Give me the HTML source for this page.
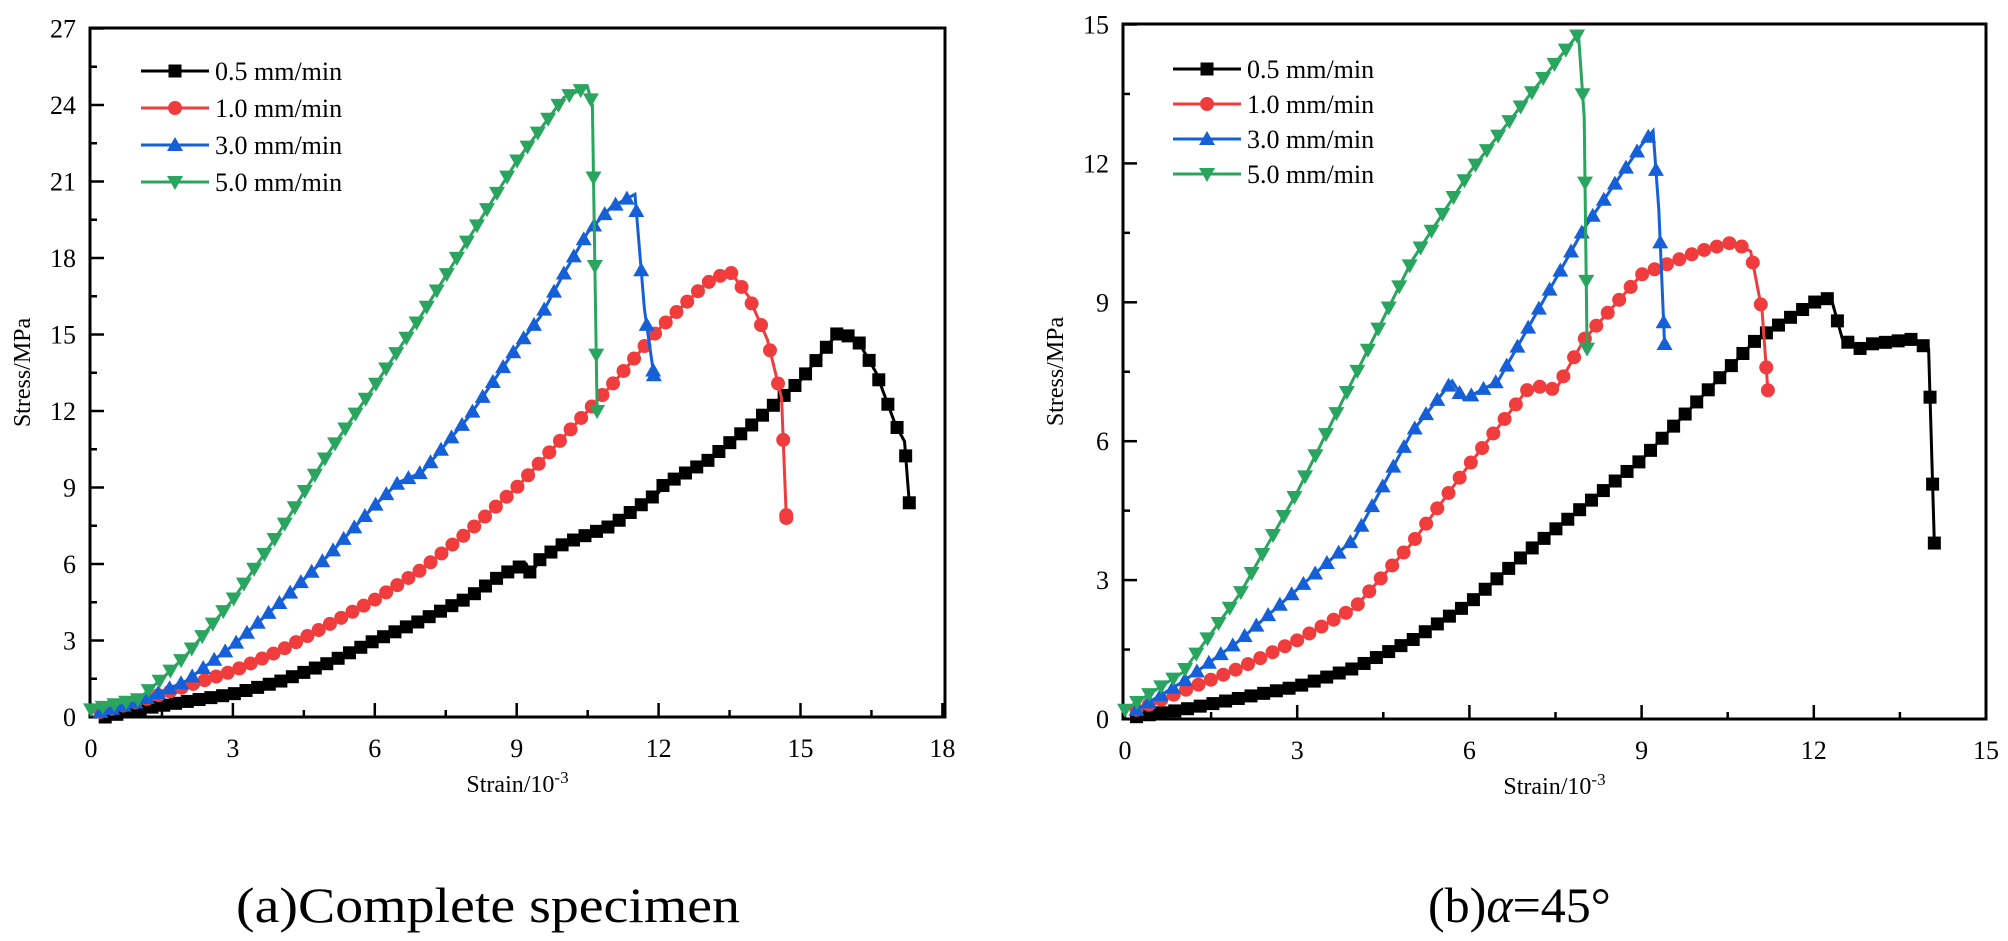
<!DOCTYPE html>
<html><head><meta charset="utf-8"><style>
body{margin:0;background:#fff}
svg{display:block}
text{font-family:"Liberation Serif",serif;fill:#000}
</style></head><body>
<svg id="s" width="2008" height="941" xmlns="http://www.w3.org/2000/svg"></svg>
<script>
const S=document.getElementById('s');
let h='';
const cols={k:'#000',r:'#f03c3c',b:'#1560d8',g:'#2aa55f'};
function chart(c){
 const X=v=>c.x0+v*c.sx, Y=v=>c.y0-v*c.sy;
 h+=`<rect x="${c.L}" y="${c.T}" width="${c.R-c.L}" height="${c.B-c.T}" fill="none" stroke="#000" stroke-width="3"/>`;
 for(let v=0;v<=c.xmax+1e-6;v+=c.xt/2){const maj=Math.abs(v/c.xt-Math.round(v/c.xt))<1e-6;const x=X(v);
  h+=`<line x1="${x}" y1="${c.B}" x2="${x}" y2="${c.B-(maj?14:7)}" stroke="#000" stroke-width="2.5"/>`;
  if(maj)h+=`<text x="${x}" y="${c.B+40}" font-size="26" text-anchor="middle">${Math.round(v)}</text>`;}
 for(let v=0;v<=c.ymax+1e-6;v+=c.yt/2){const maj=Math.abs(v/c.yt-Math.round(v/c.yt))<1e-6;const y=Y(v);
  h+=`<line x1="${c.L}" y1="${y}" x2="${c.L+(maj?14:7)}" y2="${y}" stroke="#000" stroke-width="2.5"/>`;
  if(maj)h+=`<text x="${c.L-14}" y="${y+9}" font-size="26" text-anchor="end">${Math.round(v)}</text>`;}
 h+=`<text transform="translate(${c.L-60},${(c.T+c.B)/2}) rotate(-90)" font-size="24" text-anchor="middle">Stress/MPa</text>`;
 h+=`<text x="${(c.L+c.R)/2}" y="${c.B+75}" font-size="24" text-anchor="middle">Strain/10<tspan dy="-9" font-size="17">-3</tspan></text>`;
 c.series.forEach(s=>{
  const pts=s.d.map(p=>[X(p[0]),Y(p[1])]);
  h+=`<polyline points="${pts.map(p=>p.join(',')).join(' ')}" fill="none" stroke="${cols[s.c]}" stroke-width="3"/>`;
  let acc=0,step=c.step;let mk=[pts[0]];
  for(let i=1;i<pts.length;i++){let [x1,y1]=pts[i-1],[x2,y2]=pts[i];let L=Math.abs(x2-x1)+0.12*Math.abs(y2-y1);if(L<1e-9)continue;let t=step-acc;
   while(t<=L){mk.push([x1+(x2-x1)*t/L,y1+(y2-y1)*t/L]);t+=step;}acc=L-(t-step);}
  mk.push(pts[pts.length-1]);
  mk.forEach(p=>h+=marker(s.c,p[0],p[1]));
 });
 ['k','r','b','g'].forEach((k,i)=>{const y=c.lg[1]+i*c.lg[2];
  h+=`<line x1="${c.lg[0]}" y1="${y}" x2="${c.lg[0]+68}" y2="${y}" stroke="${cols[k]}" stroke-width="3"/>`+marker(k,c.lg[0]+34,y);
  h+=`<text x="${c.lg[0]+74}" y="${y+9}" font-size="26">${['0.5','1.0','3.0','5.0'][i]} mm/min</text>`;});
}
function marker(k,x,y){const f=cols[k];
 if(k=='k')return `<rect x="${x-6.5}" y="${y-6.5}" width="13" height="13" fill="${f}"/>`;
 if(k=='r')return `<circle cx="${x}" cy="${y}" r="7" fill="${f}"/>`;
 if(k=='b')return `<polygon points="${x},${y-8} ${x-8},${y+6} ${x+8},${y+6}" fill="${f}"/>`;
 return `<polygon points="${x},${y+8} ${x-8},${y-6} ${x+8},${y-6}" fill="${f}"/>`;}
chart({L:90,R:945,T:28,B:717,x0:91,sx:47.3,y0:717,sy:25.5,xmax:18,ymax:27,xt:3,yt:3,lg:[141,71,37],step:12,series:[
{c:'k',d:[[0.3,0],[1,0.3],[2,0.6],[3,0.9],[4,1.4],[5,2.1],[6,3],[7,3.8],[8,4.7],[8.7,5.6],[9.2,6],[9.3,5.6],[9.5,6.2],[10,6.8],[11,7.5],[12,8.8],[12.1,9.1],[13,10],[14,11.5],[15,13.2],[15.8,15.1],[16.2,14.8],[16.6,13.5],[17,11.5],[17.2,10.8],[17.3,8.4]]},
{c:'r',d:[[0.2,0.2],[1,0.6],[2,1.2],[3,1.8],[4,2.6],[5,3.6],[6,4.6],[7,5.8],[8,7.3],[9,9],[10,11],[11,13],[12,15.2],[13,17],[13.5,17.5],[13.9,16.5],[14.3,14.8],[14.6,12.5],[14.7,7.8]]},
{c:'b',d:[[0.2,0.2],[1,0.6],[2,1.4],[3,2.8],[4,4.5],[5,6.3],[6,8.3],[6.5,9.2],[7,9.6],[8,11.8],[9,14.5],[9.5,15.7],[10,17.4],[10.5,19],[11,20],[11.5,20.5],[11.7,16],[11.9,13.4]]},
{c:'g',d:[[0,0.3],[1,0.7],[1.5,1.5],[2,2.4],[3,4.6],[4,7.3],[5,10.3],[6,13],[7,15.8],[8,18.8],[9,21.8],[10,24.3],[10.5,24.7],[10.6,24],[10.7,12]]}]});
chart({L:1123,R:1986,T:24,B:719,x0:1125,sx:57.4,y0:719,sy:46.3,xmax:15,ymax:15,xt:3,yt:3,lg:[1173,69,35],step:13,series:[
{c:'k',d:[[0.2,0.05],[1,0.2],[2,0.45],[3,0.7],[4,1.1],[5,1.7],[6,2.5],[7,3.6],[8,4.6],[9,5.6],[10,6.9],[11,8.2],[12,9],[12.3,9.1],[12.5,8.2],[12.8,8],[13,8.1],[13.7,8.2],[14,8],[14.1,3.8]]},
{c:'r',d:[[0.2,0.2],[1,0.6],[2,1.1],[3,1.7],[4,2.4],[5,3.8],[6,5.5],[7,7.1],[7.3,7.2],[7.5,7.1],[8,8.2],[9,9.6],[10,10.1],[10.6,10.3],[10.9,10.1],[11.1,8.8],[11.2,7.1]]},
{c:'b',d:[[0.2,0.2],[1,0.8],[2,1.7],[3,2.8],[4,3.9],[5,6.2],[5.7,7.3],[5.9,6.9],[6.5,7.3],[7,8.4],[8,10.6],[9,12.4],[9.2,12.7],[9.3,11],[9.4,8.1]]},
{c:'g',d:[[0,0.2],[1,1],[2,2.7],[3,4.9],[4,7.4],[5,9.9],[6,11.8],[7,13.4],[7.9,14.8],[8,13],[8.05,8]]}]});
h+=`<text x="236" y="922" font-size="50" textLength="504" lengthAdjust="spacingAndGlyphs">(a)Complete specimen</text>`;
h+=`<text x="1428" y="922" font-size="50">(b)<tspan font-style="italic">α</tspan>=45°</text>`;
S.innerHTML=h;
</script>
</body></html>
